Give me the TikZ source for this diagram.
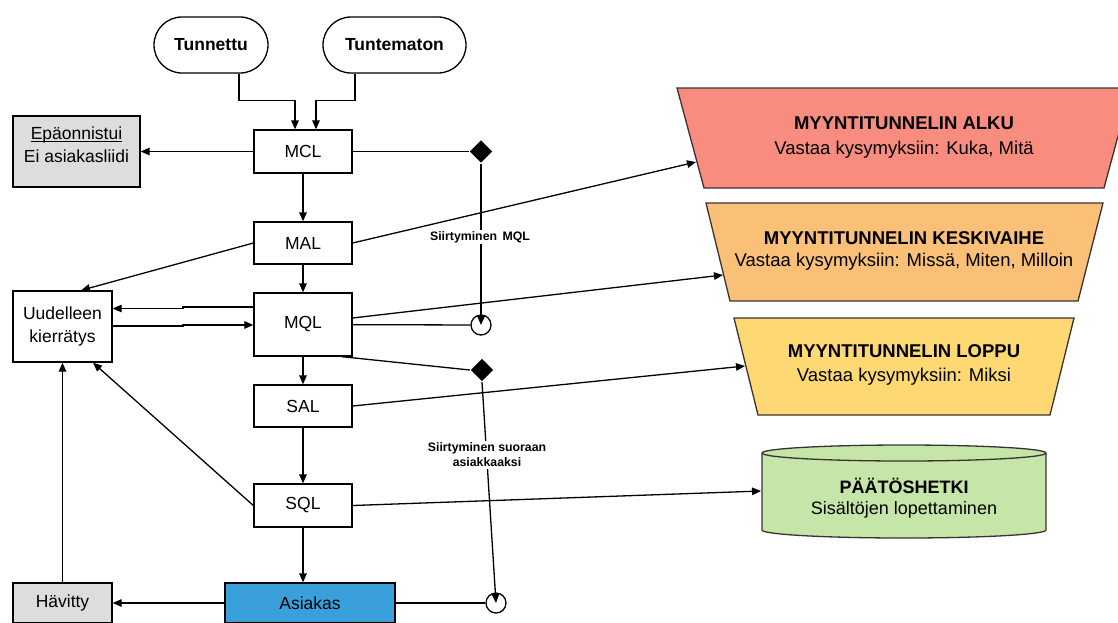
\documentclass[tikz,border=0pt]{standalone}
\usepackage{fontspec}
\setmainfont{Liberation Sans}
\usetikzlibrary{arrows.meta,shapes.geometric}
\definecolor{funnelred}{HTML}{F88C7E}
\definecolor{funnelorange}{HTML}{FAC077}
\definecolor{funnelyellow}{HTML}{FED873}
\definecolor{decisiongreen}{HTML}{C6E5A8}
\definecolor{customerblue}{HTML}{3AA0DC}
\definecolor{lostgrey}{HTML}{DDDDDD}
\definecolor{edgedark}{HTML}{3A3232}
\begin{document}
\begin{tikzpicture}[x=1pt,y=1pt,line width=1.3pt,
  arr/.style={-{Triangle[length=9pt,width=7.5pt]}},
  box/.style={draw,fill=white,inner sep=0pt,align=center,
    font=\fontsize{17.5}{23}\selectfont},
  stagebox/.style={box,minimum width=98pt},
  pill/.style={draw,fill=white,rounded corners=28pt,minimum height=56pt,
    inner sep=0pt,font=\fontsize{17.5}{21}\selectfont\bfseries},
  flag/.style={diamond,fill=black,minimum size=23pt,inner sep=0pt},
  sink/.style={circle,draw,fill=white,minimum size=20pt,inner sep=0pt},
  tag/.style={fill=white,inner sep=1.5pt,align=center,
    font=\fontsize{12.3}{15}\selectfont\bfseries},
  funnel/.style={draw=edgedark,line width=1.3pt},
  ftext/.style={align=center,font=\fontsize{18.5}{25}\selectfont}
]
\useasboundingbox (0,0) rectangle (1118,-622);
\clip (0,0) rectangle (1118,-622);

% sources
\node[pill,minimum width=114pt] (tun) at (211,-45) {Tunnettu};
\node[pill,minimum width=143pt] (tunt) at (394.5,-45) {Tuntematon};

% stage column
\node[stagebox,minimum height=43pt] (mcl) at (303,-151.5) {MCL};
\node[stagebox,minimum height=42pt] (mal) at (303,-243) {MAL};
\node[stagebox,minimum height=63pt] (mql) at (303,-324.5) {MQL};
\node[stagebox,minimum height=42pt] (sal) at (303,-406) {SAL};
\node[stagebox,minimum height=43pt] (sql) at (303,-505.5) {SQL};
\node[box,fill=customerblue,minimum width=170pt,minimum height=40pt] (asi) at (310,-603) {Asiakas};

% side boxes
\node[box,fill=lostgrey,minimum width=127pt,minimum height=71pt] (epa) at (76.5,-151.5)
  {\underline{\smash{Epäonnistui}}\\Ei asiakasliidi};
\node[box,minimum width=99pt,minimum height=71pt] (uud) at (62.5,-326.5) {Uudelleen\\kierrätys};
\node[box,fill=lostgrey,minimum width=99pt,minimum height=40pt] (hav) at (62.5,-603) {Hävitty};

% transition markers
\node[flag] (d1) at (481,-151.5) {};
\node[sink] (c1) at (481,-325) {};
\node[flag] (d2) at (482,-370) {};
\node[sink] (c2) at (496,-603) {};

% funnel stages
\filldraw[funnel,fill=funnelred] (677,-88) -- (1131,-88) -- (1104,-188) -- (704,-188) -- cycle;
\node[ftext] (f1) at (904,-138) {\textbf{MYYNTITUNNELIN ALKU}\\Vastaa kysymyksiin: Kuka, Mitä};
\filldraw[funnel,fill=funnelorange] (706,-203) -- (1103,-203) -- (1078,-301) -- (730,-301) -- cycle;
\node[ftext,font=\fontsize{18.5}{22}\selectfont] (f2) at (904,-251) {\textbf{MYYNTITUNNELIN KESKIVAIHE}\\Vastaa kysymyksiin: Missä, Miten, Milloin};
\filldraw[funnel,fill=funnelyellow] (734,-318) -- (1074,-318) -- (1050,-415) -- (758,-415) -- cycle;
\node[ftext,font=\fontsize{18.5}{24}\selectfont] (f3) at (904,-365) {\textbf{MYYNTITUNNELIN LOPPU}\\Vastaa kysymyksiin: Miksi};

% decision cylinder
\filldraw[funnel,fill=decisiongreen] (762,-453) -- (762,-530)
  arc[start angle=180,end angle=360,x radius=142pt,y radius=8pt] -- (1046,-453)
  arc[start angle=0,end angle=180,x radius=142pt,y radius=8pt] -- cycle;
\draw[funnel] (762,-453) arc[start angle=180,end angle=360,x radius=142pt,y radius=8pt];
\node[ftext,font=\fontsize{18}{21}\selectfont] (cy) at (904,-498.5) {\textbf{PÄÄTÖSHETKI}\\Sisältöjen lopettaminen};

% arrow targets on the funnel edges
\coordinate (t1in) at (696,-162);
\coordinate (t2in) at (723,-275);
\coordinate (t3in) at (745,-366);
\coordinate (cyin) at (761,-491);

% sources into MCL
\draw[arr] ([xshift=28pt]tun.south) -- ++(0,-27) -| ([xshift=-8pt]mcl.north);
\draw[arr] ([xshift=-39.5pt]tunt.south) -- ++(0,-27) -| ([xshift=13pt]mcl.north);

% main flow
\draw[arr] (mcl) -- (mal);
\draw[arr] (mal) -- (mql);
\draw[arr] (mql) -- (sal);
\draw[arr] (sal) -- (sql);
\draw[arr] (sql.south) -- (sql.south |- asi.north);

% exits and recycling
\draw[arr] (mcl) -- (epa);
\draw[arr] (mal.west) -- ([xshift=18.5pt]uud.north);
\draw[arr] (mql.west |- 0,-307) -- (183,-307) -- (183,-308.5) -- (uud.east |- 0,-308.5);
\draw[arr] (uud.east |- 0,-326) -- (183,-326) -- (183,-325) -- (mql.west |- 0,-325);
\draw[arr] (sql.west) -- ([xshift=30.5pt]uud.south);
\draw[arr] (hav) -- (uud);
\draw[arr] (asi) -- (hav);

% shortcuts
\draw (mcl) -- (d1);
\draw (mql) -- (c1);
\draw[arr] (d1.south) -- (c1.center);
\draw ([xshift=-11pt]mql.south east) -- (d2.west);
\draw (asi) -- (c2);
\draw[arr] (d2.south) -- (c2.center);
\node[tag] (lab1) at (480,-237) {Siirtyminen\, MQL};
\node[tag] (lab2) at (487,-455) {Siirtyminen suoraan\\asiakkaaksi};

% stages to funnel
\draw[arr] (mal.east) -- (t1in);
\draw[arr] ([yshift=6.5pt]mql.east) -- (t2in);
\draw[arr] (sal.east) -- (t3in);
\draw[arr] (sql.east) -- (cyin);
\end{tikzpicture}
\end{document}
